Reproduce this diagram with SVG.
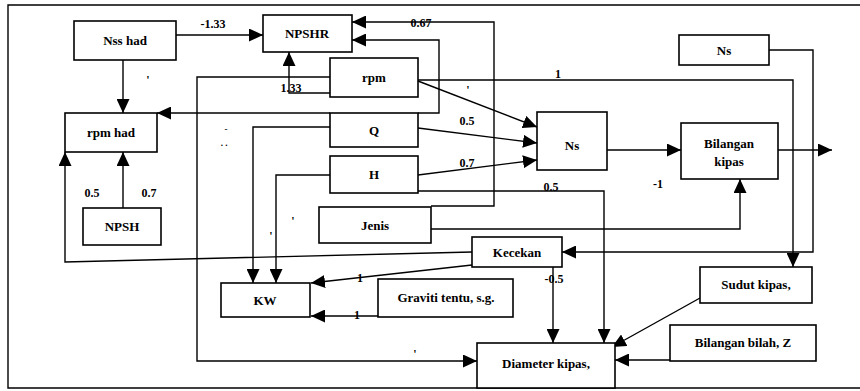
<svg xmlns="http://www.w3.org/2000/svg" width="860" height="391" viewBox="0 0 860 391">
<style>
.box{fill:#fff;stroke:#000;stroke-width:1.6}
.ln{fill:none;stroke:#000;stroke-width:1.4}
.ar{marker-end:url(#ah)}
.t{font-family:"Liberation Serif","Times New Roman",serif;font-size:13px;font-weight:bold;text-anchor:middle;fill:#000}
.lb{font-family:"Liberation Serif","Times New Roman",serif;font-size:12px;font-weight:bold;text-anchor:middle;fill:#000}
.sm{font-family:"Liberation Serif","Times New Roman",serif;font-size:9px;font-weight:bold;text-anchor:middle;fill:#000}
</style>
<defs>
<marker id="ah" markerUnits="userSpaceOnUse" markerWidth="14" markerHeight="13" refX="14" refY="6.5" orient="auto"><path d="M0,0 L14,6.5 L0,13 z" fill="#000"/></marker>
</defs>
<rect width="860" height="391" fill="#fff"/>
<path class="ln" d="M860,5 H8 V388 H860" stroke-width="1.8"/>
<g id="connectors">
<path class="ln ar" d="M176,35 H263"/>
<path class="ln ar" d="M123,60 V113"/>
<path class="ln ar" d="M330,113 H157"/>
<path class="ln ar" d="M418,113 H439 V40 H352"/>
<path class="ln ar" d="M431,206 H494 V22 H352"/>
<path class="ln ar" d="M330,93 H289 V52"/>
<path class="ln ar" d="M330,77 H197 V361 H477"/>
<path class="ln ar" d="M418,80 H793 V267"/>
<path class="ln ar" d="M418,81 L537,127"/>
<path class="ln ar" d="M418,128 L537,143"/>
<path class="ln ar" d="M418,175 L537,160"/>
<path class="ln ar" d="M418,191 H604 V343"/>
<path class="ln ar" d="M330,127 H253 V283"/>
<path class="ln ar" d="M330,175 H276 V283"/>
<path class="ln ar" d="M123,208 V152"/>
<path class="ln ar" d="M472,252 L65,262 V152"/>
<path class="ln ar" d="M472,265 L311,283"/>
<path class="ln ar" d="M378,316 H311"/>
<path class="ln ar" d="M553,267 V343"/>
<path class="ln ar" d="M769,50 H813 V252 H562"/>
<path class="ln ar" d="M431,229 H740 V179"/>
<path class="ln ar" d="M607,150 H681"/>
<path class="ln ar" d="M778,150 H832"/>
<path class="ln ar" d="M700,298 L612,347"/>
<path class="ln ar" d="M670,360 H615"/>
<text class="lb" x="213" y="28">-1.33</text>
<text class="lb" x="421" y="27">0.67</text>
<text class="lb" x="291" y="92">1.33</text>
<text class="lb" x="148" y="84">'</text>
<text class="lb" x="558" y="78">1</text>
<text class="lb" x="468" y="94">'</text>
<text class="lb" x="467" y="125">0.5</text>
<text class="lb" x="467" y="167">0.7</text>
<text class="lb" x="551" y="191">0.5</text>
<text class="lb" x="658" y="188">-1</text>
<text class="lb" x="293" y="225">'</text>
<text class="lb" x="271" y="240">'</text>
<text class="sm" x="226" y="132">-</text>
<text class="sm" x="224" y="146">. .</text>
<text class="lb" x="92" y="197">0.5</text>
<text class="lb" x="149" y="197">0.7</text>
<text class="lb" x="360" y="282">1</text>
<text class="lb" x="357" y="319">1</text>
<text class="lb" x="554" y="283">-0.5</text>
<text class="lb" x="415" y="358">'</text>
</g>
<g id="n-nsshad"><rect class="box" x="74" y="21" width="102" height="39"/><text class="t" x="125" y="45">Nss had</text></g>
<g id="n-rpmhad"><rect class="box" x="65" y="113" width="92" height="39"/><text class="t" x="111" y="137">rpm had</text></g>
<g id="n-npsh"><rect class="box" x="83" y="208" width="78" height="37"/><text class="t" x="122" y="231">NPSH</text></g>
<g id="n-npshr"><rect class="box" x="263" y="15" width="89" height="37"/><text class="t" x="307" y="38">NPSHR</text></g>
<g id="n-rpm"><rect class="box" x="330" y="58" width="88" height="39"/><text class="t" x="374" y="82">rpm</text></g>
<g id="n-q"><rect class="box" x="330" y="113" width="88" height="34"/><text class="t" x="374" y="135">Q</text></g>
<g id="n-h"><rect class="box" x="330" y="156" width="88" height="37"/><text class="t" x="374" y="179">H</text></g>
<g id="n-jenis"><rect class="box" x="319" y="207" width="112" height="36"/><text class="t" x="375" y="230">Jenis</text></g>
<g id="n-ns"><rect class="box" x="537" y="112" width="70" height="58"/><text class="t" x="572" y="150">Ns</text></g>
<g id="n-bilkipas"><rect class="box" x="681" y="123" width="97" height="56"/><text class="t" x="729" y="148">Bilangan</text><text class="t" x="729" y="166">kipas</text></g>
<g id="n-ns2"><rect class="box" x="679" y="35" width="90" height="30"/><text class="t" x="724" y="55">Ns</text></g>
<g id="n-kecekan"><rect class="box" x="472" y="237" width="90" height="30"/><text class="t" x="517" y="257">Kecekan</text></g>
<g id="n-kw"><rect class="box" x="221" y="283" width="89" height="34"/><text class="t" x="265" y="305">KW</text></g>
<g id="n-graviti"><rect class="box" x="378" y="279" width="135" height="38"/><text class="t" x="446" y="302">Graviti tentu, s.g.</text></g>
<g id="n-sudut"><rect class="box" x="700" y="267" width="112" height="36"/><text class="t" x="756" y="289">Sudut kipas,</text></g>
<g id="n-bilbilah"><rect class="box" x="670" y="325" width="146" height="36"/><text class="t" x="743" y="347">Bilangan  bilah, Z</text></g>
<g id="n-diameter"><rect class="box" x="477" y="343" width="138" height="45"/><text class="t" x="546" y="368">Diameter kipas,</text></g>
</svg>
